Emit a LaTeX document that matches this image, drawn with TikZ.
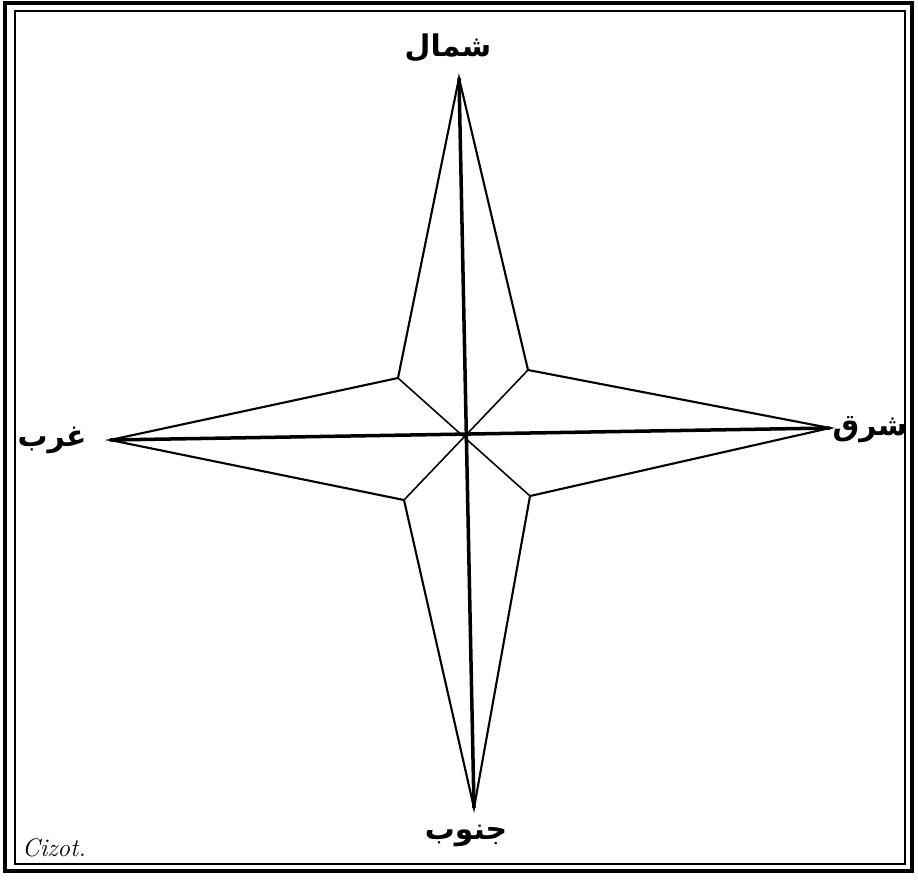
\documentclass[tikz,border=0pt]{standalone}
\usepackage{fontspec}
\newfontfamily\arabicfont[Script=Arabic]{DejaVu Sans}
\TeXXeTstate=1

\begin{document}
\begin{tikzpicture}[x=0.02cm,y=-0.02cm]
    \useasboundingbox (0,0) rectangle (918,892);
    \tikzset{dir/.style={font=\arabicfont\bfseries\fontsize{17}{20}\selectfont, inner sep=0pt}}
    % --- FRAME ---
    \draw[line width=1.8pt] (5,3) rectangle (912,871);
    \draw[line width=1.1pt] (15,11) rectangle (905,864);
    % --- STAR ---
    \coordinate (N) at (459,78);
    \coordinate (E) at (830,428);
    \coordinate (S) at (474,808);
    \coordinate (W) at (110,440);
    \coordinate (ne) at (528,370);
    \coordinate (se) at (530,496);
    \coordinate (sw) at (404,500);
    \coordinate (nw) at (398,378);
    \draw[line width=1.2pt, line join=miter] (N) -- (ne) -- (E) -- (se) -- (S) -- (sw) -- (W) -- (nw) -- cycle;
    \draw[line width=0.9pt] (ne) -- (sw);
    \draw[line width=0.9pt] (nw) -- (se);
    \draw[line width=2pt] (N) -- (S);
    \draw[line width=2pt] (W) -- (E);
    % --- LABELS ---
    \node[dir] (north) at (448,48) {\beginR شمال\endR};
    \node[dir] (east) at (870,430) {\beginR شرق\endR};
    \node[dir] (west) at (52,440) {\beginR غرب\endR};
    \node[dir] (south) at (466,836) {\beginR جنوب\endR};
    \node[font=\itshape\Large, inner sep=0pt] (sign) at (54,848) {Cizot.};
\end{tikzpicture}
\end{document}
